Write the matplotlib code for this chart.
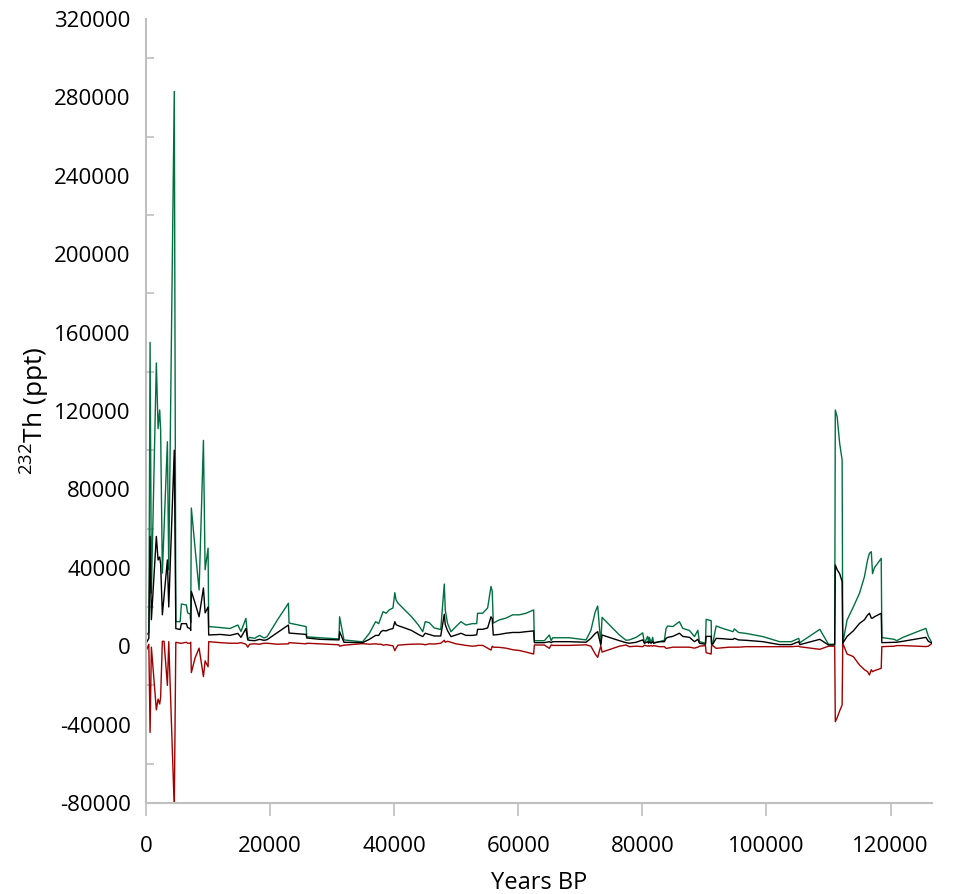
import matplotlib.pyplot as plt
import numpy as np
from matplotlib.ticker import MultipleLocator, FixedLocator

plt.rcParams['font.family'] = ['Open Sans', 'DejaVu Sans']
plt.rcParams['mathtext.fontset'] = 'custom'
plt.rcParams['mathtext.rm'] = 'Open Sans'
plt.rcParams['axes.unicode_minus'] = False

# age (years BP) and 232Th concentration (ppt): mean with upper / lower bound
years = [0, 450, 650, 860, 1660, 1940, 2200, 2350, 2630, 2900,
         3440, 3660, 4550, 4800, 5500, 5700, 6500, 6700, 7100, 7200,
         7300, 7900, 8550, 9250, 9520, 10000, 10100,
         12000, 13500, 14800, 15300, 16100, 16400, 16700, 17500, 18300, 19000,
         19500, 21200, 22950, 23050, 25800, 25900, 28000, 31100, 31200, 31900,
         34900, 36000, 37000, 37500, 37900, 38200, 38700, 39200, 39800, 40100,
         40300, 40600, 41700, 42800, 43900, 44600, 45000,
         45650, 46460, 47500, 48070, 48230, 48600, 49150, 49950, 50760, 51560,
         52600, 53300, 53440, 54250, 55060, 55600, 55800, 55970, 56940, 58000,
         59100, 60170, 61240, 62480, 62590, 64200, 65000, 65300, 65540, 68230,
         70920, 71700, 72400, 72800, 73300, 73500, 76300, 77370,
         77900, 79000, 80060, 80330, 80860, 81000, 81130, 81400, 81670, 81800,
         82740, 83550, 83820, 84100, 84900, 85970, 86510, 87590, 88400, 88940,
         89200, 90170, 90280, 91090, 91150, 91350, 91890, 93000, 94040, 94600,
         94840, 95500, 96730, 99420, 102110, 104000, 105200, 105400, 108600, 110000,
         111000, 111100, 111400, 111800, 112200, 112300, 113000, 114000, 115000, 115800,
         116300, 116600, 116900, 117100, 117400, 118500, 118600, 120600, 121000, 122000,
         125700, 126100, 126700]

th_mean = [1500, 4000, 56000, 13500, 56000, 44000, 45500, 42000, 16000, 25500,
           44000, 20000, 100000, 9000, 8500, 11500, 11500, 9500, 9000, 8000,
           28000, 22000, 15000, 29700, 17000, 20000, 5700,
           6000, 5500, 6500, 4500, 9000, 3200, 3000, 2800, 3500, 3000,
           3300, 7000, 10800, 6700, 6000, 4200, 3500, 3200, 7400, 2000,
           1800, 3500, 5500, 5500, 7500, 8000, 7800, 8500, 9000, 12500,
           11000, 10500, 9300, 8000, 6000, 4900, 6600,
           6000, 5200, 5200, 16300, 11000, 7900, 4900, 5700, 6600, 5500,
           5500, 5800, 8600, 8600, 9300, 15000, 14000, 5700, 6000, 6600,
           7000, 7000, 7400, 7800, 1800, 1800, 2300, 1800, 2300, 2300,
           2000, 4000, 6500, 7400, 600, 5700, 2800, 1800,
           1500, 2000, 3200, 1500, 2300, 1500, 2300, 1500, 2300, 1500,
           2300, 2300, 4000, 4500, 5000, 6600, 5000, 4500, 2300, 3500,
           1500, 1000, 5000, 5000, 1000, 1000, 4000, 3800, 3500, 3500,
           4000, 3200, 3000, 2300, 800, 800, 2300, 800, 3500, 600,
           600, 41400, 39000, 37000, 32900, 1500, 5000, 7800, 11600, 13500,
           15900, 16800, 14300, 14300, 15000, 16800, 1800, 2000, 2000, 2500,
           4500, 2500, 1500]

th_upper = [5500, 7000, 155000, 27000, 144500, 111000, 120500, 110000, 37300, 60000,
            104300, 39000, 283000, 12500, 12500, 21500, 21000, 17000, 16500, 12000,
            70500, 50000, 28700, 105000, 39000, 50000, 10000,
            9500, 9000, 10800, 7500, 14200, 3500, 4500, 4000, 5500, 4200,
            4800, 13500, 21900, 11800, 10000, 4800, 4300, 3700, 15000, 3200,
            2200, 6600, 12500, 11500, 15000, 17600, 16800, 18500, 19500, 27300,
            23600, 22000, 18500, 15000, 10800, 7400, 12500,
            12000, 9300, 8500, 31700, 18500, 11600, 7400, 10000, 12500, 10800,
            11500, 11500, 16800, 16800, 19500, 30500, 28000, 11800, 13400, 14300,
            16000, 16000, 16800, 18500, 2800, 2800, 5700, 2800, 4300, 4300,
            3200, 8000, 17500, 20500, 1000, 14700, 5700, 3000,
            3200, 4500, 6800, 1500, 5000, 1800, 4500, 1800, 4500, 1800,
            2300, 3000, 9100, 10300, 10000, 12500, 9100, 8000, 4900, 8100,
            2300, 1500, 13700, 13000, 1500, 1500, 10300, 9000, 8000, 7400,
            8800, 7000, 6500, 4900, 2300, 2300, 4000, 1800, 8600, 1000,
            1000, 120500, 117000, 103500, 95000, 1500, 13400, 20000, 27000, 35500,
            44000, 47400, 48200, 37000, 40000, 44800, 4400, 3500, 2800, 4500,
            9100, 5000, 1500]

th_lower = [-2500, 1000, -44000, -500, -32500, -27000, -29500, -26000, 2500, 2500,
            -20000, 2300, -83000, 2000, 1500, 1500, 2000, 1500, 1500, 2000,
            -13500, -6000, -1000, -15500, -7500, -10500, 2300,
            1800, 1500, 1500, 1800, 1000, -500, 1000, 1200, 1000, 1500,
            1500, 1000, 1200, 1800, 1200, 1500, 1200, 700, 0, 500,
            1300, 1000, 1200, 1000, 1000, 500, 800, 500, 200, -2300,
            -1000, 500, 800, 1000, 1100, 1000, 700,
            1200, 1100, 1500, 3000, 2000, 2500, 2000, 1200, 800, 400,
            0, 200, 400, 400, -1000, -2000, 0, -500, -600, -1000,
            -1800, -2200, -3000, -4000, 600, 600, -1100, 600, 400, 400,
            700, 0, -4000, -5700, 200, -3000, 0, 600,
            -250, 0, -250, 500, 0, 300, 0, 300, 0, 300,
            -250, -250, -1100, -1000, -500, -500, -500, -500, -1000, -500,
            0, 300, -3300, -4000, 300, 300, -1100, -800, -500, -500,
            -500, -500, -250, -250, -250, -250, 0, -300, -1600, 0,
            0, -38500, -36500, -33000, -30000, 1500, -4000, -5300, -9600, -12000,
            -13000, -14700, -12000, -13000, -12500, -11300, -250, 0, 300, 300,
            -200, 0, 1500]


def get_fig(outfig):
    fig = plt.figure(figsize=(9.64, 8.94), dpi=100)
    ax = fig.add_axes([0.1515, 0.1018, 0.8154, 0.877])

    ax.plot(years, th_upper, color='#007040', lw=1.0)
    ax.plot(years, th_lower, color='#A00000', lw=1.0)
    ax.plot(years, th_mean, color='black', lw=1.0)

    ax.set_xlim(0, 126700)
    ax.set_ylim(-80000, 320000)

    for side in ['top', 'right']:
        ax.spines[side].set_visible(False)
    for side in ['left', 'bottom']:
        ax.spines[side].set_color('#BFBFBF')
        ax.spines[side].set_linewidth(1.5)

    ax.xaxis.set_major_locator(MultipleLocator(20000))
    ax.yaxis.set_major_locator(MultipleLocator(40000))
    ax.yaxis.set_minor_locator(FixedLocator(np.arange(-60000, 320000, 40000)))

    ax.tick_params(axis='x', which='major', direction='out', length=9.5, width=1.2,
                   color='#BFBFBF', labelsize=16, pad=14)
    ax.tick_params(axis='y', which='major', length=0, labelsize=16, pad=11)
    ax.tick_params(axis='y', which='minor', direction='in', length=5.5, width=1.2,
                   color='#BFBFBF')

    ax.set_xlabel('Years BP', fontsize=17, labelpad=10)
    ax.set_ylabel(r'$^{232}$Th (ppt)', fontsize=19, labelpad=2)

    fig.savefig(outfig, dpi=100)


if __name__ == "__main__":
    get_fig('out.png')
